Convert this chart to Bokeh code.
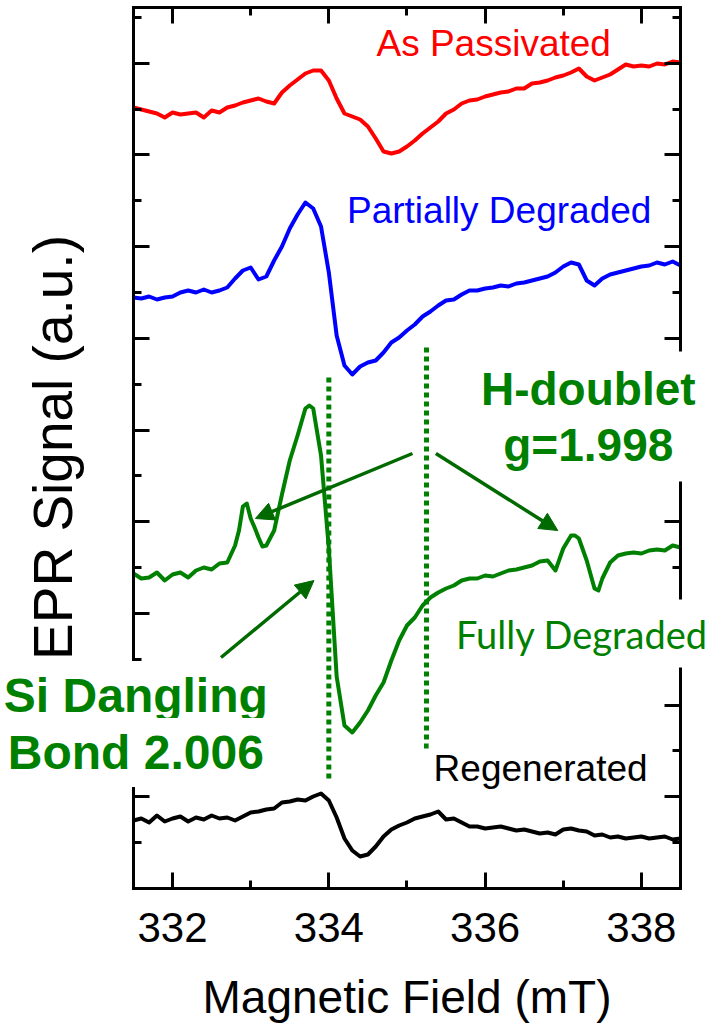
import numpy as np
from bokeh.plotting import figure
from bokeh.models import Range1d, LinearAxis, FixedTicker, Label, Arrow, NormalHead
from bokeh.embed import file_html
from bokeh.resources import INLINE

# ---------------- data ----------------
field = [331.5, 331.6, 331.7, 331.8, 331.9, 332.0, 332.1, 332.2, 332.3, 332.4,
         332.5, 332.6, 332.7, 332.8, 332.9, 333.0, 333.1, 333.2, 333.3, 333.4,
         333.5, 333.6, 333.7, 333.8, 333.9, 334.0, 334.1, 334.2, 334.3, 334.4,
         334.5, 334.6, 334.7, 334.8, 334.9, 335.0, 335.1, 335.2, 335.3, 335.4,
         335.5, 335.6, 335.7, 335.8, 335.9, 336.0, 336.1, 336.2, 336.3, 336.4,
         336.5, 336.6, 336.7, 336.8, 336.9, 337.0, 337.1, 337.2, 337.3, 337.4,
         337.5, 337.6, 337.7, 337.8, 337.9, 338.0, 338.1, 338.2, 338.3, 338.4,
         338.5]

as_passivated = [781, 779, 777, 775, 771, 776, 774, 775, 776, 771,
                 778, 776, 781, 783, 786, 788, 790, 787, 785, 796,
                 803, 809, 815, 818, 818, 808, 790, 775, 772, 769,
                 762, 750, 737, 735, 737, 742, 748, 755, 761, 767,
                 775, 779, 785, 788, 789, 792, 794, 796, 797, 800,
                 800, 805, 806, 808, 811, 813, 816, 820, 812, 808,
                 811, 814, 819, 824, 822, 823, 822, 825, 824, 827,
                 826]

partially_degraded = [591, 590, 592, 589, 591, 592, 596, 598, 596, 599,
                      596, 598, 601, 610, 618, 621, 609, 612, 628, 642,
                      660, 674, 686, 680, 662, 616, 553, 523, 514, 522,
                      526, 528, 536, 546, 551, 558, 564, 572, 577, 583,
                      588, 589, 594, 598, 598, 600, 601, 603, 602, 605,
                      606, 608, 610, 612, 616, 622, 626, 624, 608, 603,
                      610, 614, 616, 618, 620, 622, 623, 626, 624, 627,
                      623]

fully_field = [331.5, 331.6, 331.7, 331.8, 331.9, 332.0, 332.1, 332.2, 332.3, 332.4,
               332.5, 332.6, 332.7, 332.8, 332.85, 332.9, 332.95, 333.0, 333.05, 333.1,
               333.15, 333.2, 333.3, 333.4, 333.5, 333.6, 333.7, 333.75, 333.8, 333.9,
               334.0, 334.1, 334.2, 334.3, 334.4, 334.5, 334.6, 334.7, 334.8, 334.9,
               335.0, 335.1, 335.2, 335.3, 335.4, 335.5, 335.6, 335.7, 335.8, 335.9,
               336.0, 336.1, 336.2, 336.3, 336.4, 336.5, 336.6, 336.7, 336.8, 336.9,
               337.0, 337.1, 337.15, 337.2, 337.3, 337.4, 337.45, 337.5, 337.6, 337.7,
               337.8, 337.9, 338.0, 338.1, 338.2, 338.3, 338.4, 338.5]

fully_degraded = [315, 310, 311, 316, 308, 314, 316, 311, 318, 321,
                  319, 325, 326, 343, 358, 382, 385, 370, 361, 351,
                  342, 343, 358, 394, 428, 453, 480, 483, 480, 433,
                  340, 212, 163, 156, 166, 178, 193, 206, 228, 248,
                  263, 271, 283, 291, 296, 300, 303, 308, 310, 310,
                  313, 312, 315, 318, 319, 321, 323, 327, 328, 318,
                  340, 353, 353, 350, 328, 300, 298, 310, 326, 333,
                  335, 336, 335, 338, 339, 338, 343, 341]

regenerated = [68, 70, 66, 73, 67, 70, 72, 67, 71, 69,
               73, 70, 71, 68, 72, 76, 77, 79, 80, 86,
               87, 89, 88, 92, 95, 88, 71, 50, 38, 32,
               34, 42, 52, 59, 63, 66, 70, 72, 74, 77,
               69, 70, 66, 62, 62, 60, 61, 62, 60, 58,
               59, 57, 55, 56, 54, 59, 60, 58, 57, 53,
               54, 51, 52, 50, 51, 52, 50, 51, 52, 49,
               50]

x_ticks = [332, 334, 336, 338]
x_minor_ticks = [333, 335, 337]
x_bounds = (331.5, 338.5)
y_bounds = (0, 881)
y_tick_step = 91.7

si_dangling_field = 334.0      # g = 2.006
h_doublet_field = 335.25       # g = 1.998
si_line_span = [110, 511]
h_line_span = [140, 541]

GREEN = "#008000"
ARROW_GREEN = "#006a00"

# ---------------- figure ----------------
# The frame covers the whole canvas so that annotations outside the axes box
# (which Bokeh clips to the frame) stay visible; the axes sit at fixed locations.
p = figure(width=717, height=1031, output_backend="svg", toolbar_location=None,
           x_range=Range1d(329.798, 338.974), y_range=Range1d(-143, 888),
           min_border=0, background_fill_color="white", border_fill_color="white")
p.title.visible = False
p.outline_line_color = None
p.grid.visible = False


def x_ticker():
    return FixedTicker(ticks=x_ticks, minor_ticks=x_minor_ticks)


def y_ticker():
    return FixedTicker(ticks=[y_tick_step * k for k in range(10)],
                       minor_ticks=[y_tick_step * (k + 0.5) for k in range(10)])


def style_axis(ax, ticker, loc, bounds, show_labels=False):
    ax.ticker = ticker
    ax.fixed_location = loc
    ax.bounds = bounds
    ax.axis_line_width = 3
    ax.axis_line_color = "black"
    ax.axis_line_cap = "square"
    ax.major_tick_line_width = 3
    ax.minor_tick_line_width = 3
    ax.major_tick_line_color = "black"
    ax.minor_tick_line_color = "black"
    ax.major_tick_in = 16
    ax.major_tick_out = 0
    ax.minor_tick_in = 8
    ax.minor_tick_out = 0
    if not show_labels:
        ax.major_label_text_color = None
        ax.major_label_standoff = 0


bottom = p.xaxis[0]
style_axis(bottom, x_ticker(), y_bounds[0], x_bounds, show_labels=True)
bottom.major_label_text_font = "Liberation Sans"
bottom.major_label_text_font_size = "42px"
bottom.major_label_text_color = "black"
bottom.major_label_standoff = 24
bottom.axis_label = "Magnetic Field (mT)"
bottom.axis_label_text_font = "Liberation Sans"
bottom.axis_label_text_font_size = "46px"
bottom.axis_label_text_font_style = "normal"
bottom.axis_label_text_color = "black"
bottom.axis_label_standoff = 26

left = p.yaxis[0]
style_axis(left, y_ticker(), x_bounds[0], y_bounds)

top_ax = LinearAxis()
style_axis(top_ax, x_ticker(), y_bounds[1], x_bounds)
p.add_layout(top_ax, "above")
right_ax = LinearAxis()
style_axis(right_ax, y_ticker(), x_bounds[1], y_bounds)
p.add_layout(right_ax, "right")

# ---------------- spectra ----------------
p.line(field, as_passivated, line_color="#ff0000", line_width=4, line_join="round")
p.line(field, partially_degraded, line_color="#0000ff", line_width=4, line_join="round")
p.line(fully_field, fully_degraded, line_color=GREEN, line_width=4, line_join="round")
p.line(field, regenerated, line_color="black", line_width=4, line_join="round")

# dotted markers for the two resonances
p.segment(x0=[si_dangling_field, h_doublet_field], y0=[si_line_span[0], h_line_span[0]],
          x1=[si_dangling_field, h_doublet_field], y1=[si_line_span[1], h_line_span[1]],
          line_color=GREEN, line_width=5, line_dash="5 4")

# ---------------- arrows ----------------
arrows = [
    (335.07, 435, 333.06, 370),
    (335.37, 435, 336.93, 358),
    (332.62, 231, 333.81, 308),
]
for xs, ys, xe, ye in arrows:
    p.add_layout(Arrow(end=NormalHead(size=18, fill_color=ARROW_GREEN, line_color=ARROW_GREEN),
                       x_start=xs, y_start=ys, x_end=xe, y_end=ye,
                       line_color=ARROW_GREEN, line_width=3.5))


# ---------------- labels ----------------
def add_label(text, x, y, color, size, font="Liberation Sans", style="normal",
              bg=False, pad=0, angle=0):
    lab = Label(x=x, y=y, text=text, text_color=color, text_font=font,
                text_font_size=size, text_font_style=style, text_align="center",
                text_baseline="middle", angle=angle)
    if bg:
        lab.background_fill_color = "white"
        lab.background_fill_alpha = 1.0
        lab.padding = pad
    p.add_layout(lab)


add_label("EPR Signal (a.u.)", 330.47, 441, "black", "55px", angle=np.pi / 2)
add_label("As Passivated", 336.11, 845, "#ff0000", "37px")
add_label("Partially Degraded", 336.18, 678, "#0000ff", "37px")
add_label("Regenerated", 336.71, 120, "black", "37px", bg=True, pad=5)
add_label("Fully Degraded", 337.24, 255, GREEN, "38px", font="Lato", bg=True, pad=11)
add_label("H-doublet", 337.32, 500, GREEN, "46px", style="bold", bg=True, pad=11)
add_label("g=1.998", 337.32, 444, GREEN, "46px", style="bold", bg=True, pad=11)
add_label("Si Dangling", 331.53, 193, GREEN, "48px", style="bold", bg=True, pad=8)
add_label("Bond 2.006", 331.53, 136, GREEN, "48px", style="bold", bg=True, pad=8)

open("out.html", "w").write(file_html(p, INLINE))
